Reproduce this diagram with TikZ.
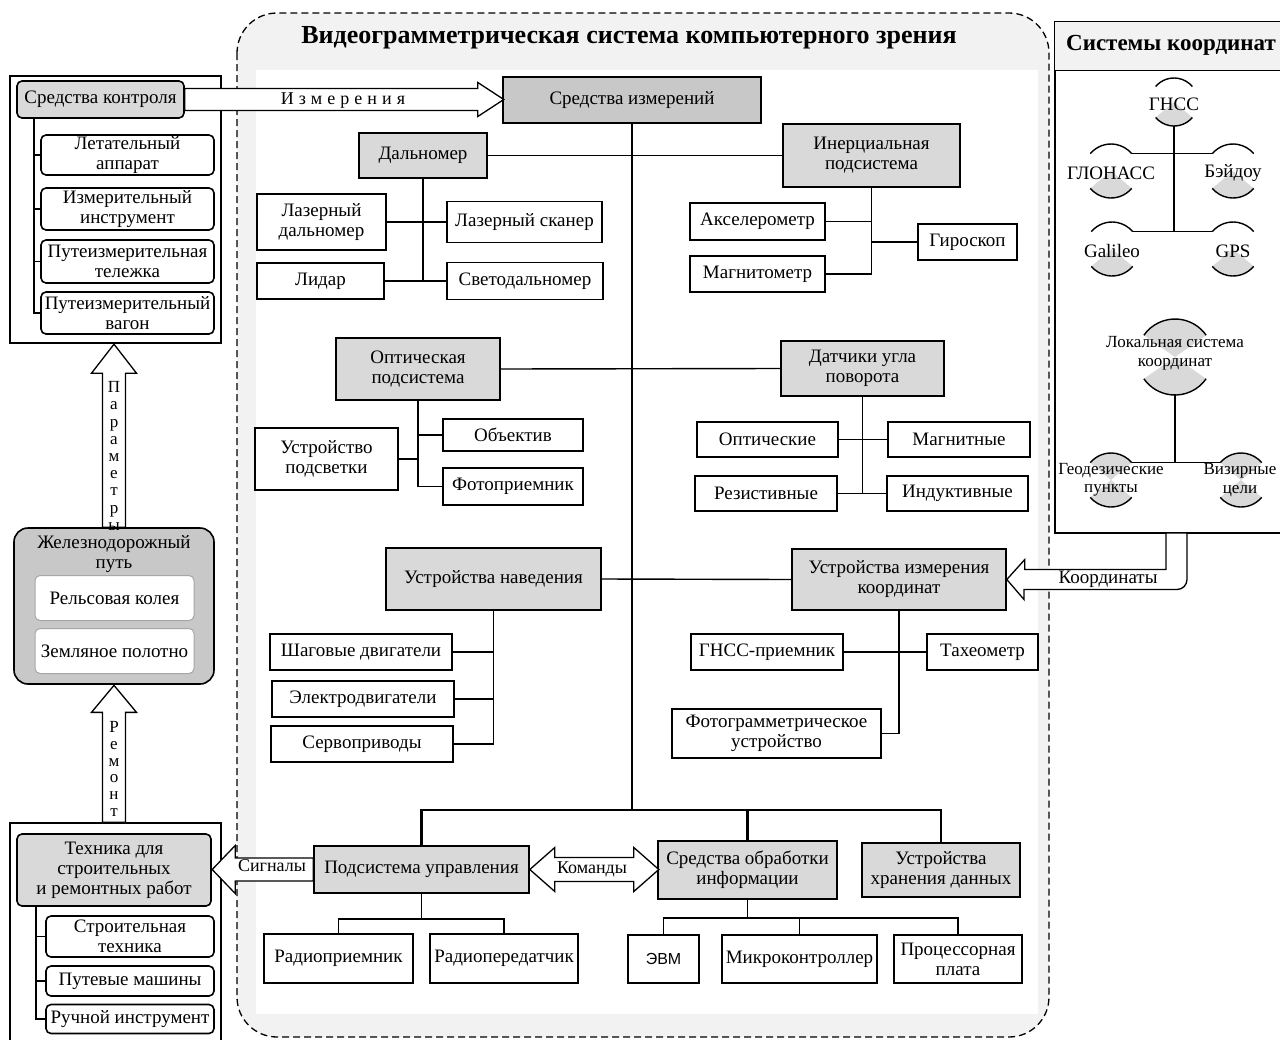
\documentclass[tikz,border=0pt]{standalone}
\usepackage{fontspec}
\setmainfont{Liberation Serif}
\newfontfamily\sansf{Liberation Sans}
\usetikzlibrary{calc}
\definecolor{bggray}{HTML}{F2F2F2}
\definecolor{boxgray}{HTML}{D9D9D9}
\definecolor{deepgray}{HTML}{C8C8C8}
\tikzset{
  wh/.style 2 args={minimum width=#1, minimum height=#2},
  box/.style={draw, line width=1.6pt, fill=white, inner sep=1pt, align=center},
  gbox/.style={box, fill=boxgray},
  rbox/.style={box, rounded corners=5pt},
  rgbox/.style={rbox, fill=boxgray},
  frame/.style={draw, line width=1.3pt, fill=white, inner sep=0pt},
  conn/.style={line width=1.4pt},
  trunk/.style={line width=2.6pt},
  fatarrow/.style={draw, line width=1.3pt, fill=white, line join=miter},
  wedge/.style={fill=boxgray},
  markarc/.style={line width=1.4pt},
  marktext/.style={inner sep=0pt, align=center},
  titletext/.style={font=\bfseries\fontsize{26}{28}\selectfont}
}
\begin{document}
\begin{tikzpicture}[x=1pt, y=-1pt, font=\fontsize{19}{20}\selectfont]
\useasboundingbox (0,0) rectangle (1280,1039);

% video system area
\draw[dash pattern=on 7pt off 4pt, line width=1.3pt, fill=bggray, rounded corners=40pt] (237,13) rectangle (1049,1037);
\fill[white] (256,70) rectangle (1038,1014);
\node[titletext] (vtitle) at (629,38) {Видеограмметрическая система компьютерного зрения};

% coordinate systems
\node[frame, wh={226}{511}] (ksys) at (1168,277.5) {};
\draw[frame, fill=bggray] (ksys.north west) rectangle ($(ksys.north east)+(0,49)$);
\node[titletext, font=\bfseries\fontsize{23}{25}\selectfont] (kstitle) at (1171,45) {Системы координат};

\coordinate (gnss) at (1174,102);
\coordinate (glon) at (1111,171);
\coordinate (beid) at (1233,171);
\coordinate (gal) at (1112,249);
\coordinate (gps) at (1233,249);
\fill[wedge] (gnss) -- +(40:24) arc (40:140:24) -- cycle;
\fill[wedge] (glon) -- +(40:27) arc (40:140:27) -- cycle;
\fill[wedge] (beid) -- +(40:27) arc (40:140:27) -- cycle;
\fill[wedge] (gal) -- +(40:27) arc (40:140:27) -- cycle;
\fill[wedge] (gps) -- +(40:27) arc (40:140:27) -- cycle;
\draw[markarc] (gnss) +(220:24) arc (220:320:24) (gnss) +(40:24) arc (40:140:24);
\draw[markarc] (glon) +(220:27) arc (220:320:27) (glon) +(40:27) arc (40:140:27);
\draw[markarc] (beid) +(220:27) arc (220:320:27) (beid) +(40:27) arc (40:140:27);
\draw[markarc] (gal) +(220:27) arc (220:320:27) (gal) +(40:27) arc (40:140:27);
\draw[markarc] (gps) +(220:27) arc (220:320:27) (gps) +(40:27) arc (40:140:27);
\node[marktext] (gnsst) at (1174,104) {ГНСС};
\node[marktext] (glont) at (1111,173) {ГЛОНАСС};
\node[marktext] (beidt) at (1233,173) {Бэйдоу};
\node[marktext] (galt) at (1112,251) {Galileo};
\node[marktext] (gpst) at (1233,251) {GPS};
\coordinate (gnssb) at ($(gnss)+(90:24)$);
\coordinate (glonr) at ($(glon)+(320:27)$);
\coordinate (beidl) at ($(beid)+(220:27)$);
\coordinate (galr) at ($(gal)+(320:27)$);
\coordinate (gpsl) at ($(gps)+(220:27)$);
\draw[conn] (glonr) -- (beidl);
\draw[conn] (galr) -- (gpsl);
\draw[conn] (gnssb) -- (gnssb |- galr);

\coordinate (lok) at (1175,357);
\coordinate (geo) at (1111,480);
\coordinate (viz) at (1241,480);
\fill[wedge] (lok) -- +(35:38) arc (35:145:38) -- cycle;
\fill[wedge] (lok) -- +(215:38) arc (215:325:38) -- cycle;
\fill[wedge] (geo) -- +(40:27) arc (40:140:27) -- cycle;
\fill[wedge] (geo) -- +(220:27) arc (220:320:27) -- cycle;
\fill[wedge] (viz) -- +(40:27) arc (40:140:27) -- cycle;
\fill[wedge] (viz) -- +(220:27) arc (220:320:27) -- cycle;
\draw[markarc] (lok) +(215:38) arc (215:325:38) (lok) +(35:38) arc (35:145:38);
\draw[markarc] (geo) +(220:27) arc (220:320:27) (geo) +(40:27) arc (40:140:27);
\draw[markarc] (viz) +(220:27) arc (220:320:27) (viz) +(40:27) arc (40:140:27);
\node[marktext, font=\fontsize{17}{18.5}\selectfont] (lokt) at (1175,353) {Локальная система\\координат};
\node[marktext, font=\fontsize{17}{18.5}\selectfont] (geot) at (1111,480) {Геодезические\\пункты};
\node[marktext, font=\fontsize{17}{18.5}\selectfont] (vizt) at (1240,480) {Визирные\\цели};
\coordinate (lokb) at ($(lok)+(90:38)$);
\coordinate (geor) at ($(geo)+(320:27)$);
\coordinate (vizl) at ($(viz)+(220:27)$);
\draw[conn] (geor) -- (vizl);
\draw[conn] (lokb) -- (lokb |- geor);

% control group
\node[frame, wh={211}{267}] (kgrp) at (115.5,209.5) {};
\node[rgbox, wh={167}{37}] (kontr) at (100.5,99.5) {Средства контроля};
\node[rbox, wh={173}{40}] (let) at (127.5,155) {Летательный\\аппарат};
\node[rbox, wh={173}{42}] (izi) at (127.5,209) {Измерительный\\инструмент};
\node[rbox, wh={173}{43}] (pit) at (127.5,261.5) {Путеизмерительная\\тележка};
\node[rbox, wh={173}{42}] (piv) at (127.5,313) {Путеизмерительный\\вагон};
\coordinate (kl) at (34,118);
\draw[conn] (kl) |- (piv.west);
\draw[conn] (kl |- let.west) -- (let.west);
\draw[conn] (kl |- izi.west) -- (izi.west);
\draw[conn] (kl |- pit.west) -- (pit.west);

% railway
\node[box, rounded corners=14pt, fill=deepgray, wh={200}{156}] (zhd) at (114,606) {};
\node[marktext] (zhdt) at (114,554) {Железнодорожный\\путь};
\node[box, draw=gray!70, line width=1pt, rounded corners=5pt, wh={159}{45}] (rk) at (114.5,598) {Рельсовая колея};
\node[box, draw=gray!70, line width=1pt, rounded corners=5pt, wh={159}{45}] (zp) at (114.5,651) {Земляное полотно};

% machinery group
\node[frame, wh={211}{228}] (tgrp) at (115.5,937) {};
\node[rgbox, wh={194}{72}] (teh) at (114,870) {Техника для\\строительных\\и ремонтных работ};
\node[rbox, wh={168}{41}] (st) at (130,936.5) {Строительная\\техника};
\node[rbox, wh={168}{30}] (pm) at (130,981) {Путевые машины};
\node[rbox, wh={168}{29}] (ri) at (130,1019) {Ручной инструмент};
\coordinate (tl) at (36,906);
\draw[conn] (tl) |- (ri.west);
\draw[conn] (tl |- st.west) -- (st.west);
\draw[conn] (tl |- pm.west) -- (pm.west);

% measurement tools
\node[box, fill=deepgray, wh={258}{46}] (sizm) at (632,100) {Средства измерений};
\node[gbox, wh={128}{45}] (dal) at (423,155.5) {Дальномер};
\node[gbox, wh={177}{63}] (ins) at (871.5,155.5) {Инерциальная\\подсистема};
\node[box, wh={129}{56}] (lazd) at (321.5,222) {Лазерный\\дальномер};
\node[box, wh={127}{36}] (lid) at (320.5,281) {Лидар};
\node[box, wh={155}{41}] (lazs) at (524.5,222) {Лазерный сканер};
\node[box, wh={156}{37}] (svd) at (525,281) {Светодальномер};
\node[box, wh={135}{37}] (aks) at (757.5,221.5) {Акселерометр};
\node[box, wh={135}{36}] (mag) at (757.5,274) {Магнитометр};
\node[box, wh={99}{36}] (gir) at (967.5,242) {Гироскоп};

\node[gbox, wh={164}{62}] (opt) at (418,369) {Оптическая\\подсистема};
\node[box, wh={140}{32}] (obj) at (513,435) {Объектив};
\node[box, wh={140}{37}] (foto) at (513,486.5) {Фотоприемник};
\node[box, wh={143}{62}] (podsv) at (326.5,459) {Устройство\\подсветки};
\node[gbox, wh={163}{55}] (dat) at (862.5,368.5) {Датчики угла\\поворота};
\node[box, wh={141}{35}] (optd) at (767.5,439.5) {Оптические};
\node[box, wh={142}{35}] (magd) at (959,439.5) {Магнитные};
\node[box, wh={142}{35}] (rez) at (766,493.5) {Резистивные};
\node[box, wh={141}{35}] (ind) at (957.5,493.5) {Индуктивные};

\node[gbox, wh={215}{62}] (nav) at (493.5,579) {Устройства наведения};
\node[box, wh={182}{36}] (shag) at (361,652) {Шаговые двигатели};
\node[box, wh={182}{36}] (elek) at (363,699) {Электродвигатели};
\node[box, wh={182}{36}] (serv) at (362,744) {Сервоприводы};
\node[gbox, wh={214}{61}] (izk) at (899,579.5) {Устройства измерения\\координат};
\node[box, wh={152}{36}] (gnp) at (767,652) {ГНСС-приемник};
\node[box, wh={111}{36}] (tah) at (982.5,652) {Тахеометр};
\node[box, wh={209}{49}] (fgu) at (776.5,733.5) {Фотограмметрическое\\устройство};

\node[gbox, wh={215}{47}] (podu) at (421.5,869.5) {Подсистема управления};
\node[gbox, wh={179}{58}] (sobr) at (747.5,870) {Средства обработки\\информации};
\node[gbox, wh={158}{54}] (hran) at (941,870) {Устройства\\хранения данных};
\node[box, wh={149}{49}] (rpm) at (338.5,958.5) {Радиоприемник};
\node[box, wh={148}{49}] (rpd) at (504,958.5) {Радиопередатчик};
\node[box, wh={71}{48}, font=\sansf\fontsize{16}{18}\selectfont] (evm) at (663.5,959) {ЭВМ};
\node[box, wh={155}{48}] (mik) at (799.5,959) {Микроконтроллер};
\node[box, wh={128}{48}] (proc) at (958,959) {Процессорная\\плата};

% tree lines
\coordinate (bus) at (632,810);
\draw[trunk] (sizm.south) -- (bus);
\draw[trunk] (podu.north) |- (bus) -| (hran.north);
\draw[trunk] (sobr.north) -- (sobr.north |- bus);

\draw[conn] (dal.east) -- (ins.west);
\draw[conn] (dal.south) -- (dal.south |- lid.east);
\draw[conn] (lazd.east) -- (lazs.west);
\draw[conn] (lid.east) -- (svd.west);
\draw[conn] (ins.south) -- (ins.south |- mag.east);
\draw[conn] (aks.east) -- (ins.south |- aks.east);
\draw[conn] (mag.east) -- (ins.south |- mag.east);
\draw[conn] (gir.west) -- (ins.south |- gir.west);

\draw[conn] (opt.east) -- (dat.west);
\draw[conn] (opt.south) -- (opt.south |- foto.west);
\draw[conn] (podsv.east) -- (opt.south |- podsv.east);
\draw[conn] (obj.west) -- (opt.south |- obj.west);
\draw[conn] (foto.west) -- (opt.south |- foto.west);
\draw[conn] (dat.south) -- (dat.south |- rez.east);
\draw[conn] (optd.east) -- (magd.west);
\draw[conn] (rez.east) -- (ind.west);

\draw[conn] (nav.east) -- (izk.west);
\draw[conn] (nav.south) -- (nav.south |- serv.east);
\draw[conn] (shag.east) -- (nav.south |- shag.east);
\draw[conn] (elek.east) -- (nav.south |- elek.east);
\draw[conn] (serv.east) -- (nav.south |- serv.east);
\draw[conn] (izk.south) -- (izk.south |- fgu.east);
\draw[conn] (gnp.east) -- (tah.west);
\draw[conn] (fgu.east) -- (izk.south |- fgu.east);

\coordinate (pub) at (421.5,919);
\draw[conn] (podu.south) -- (pub);
\draw[conn] (rpm.north) |- (pub) -| (rpd.north);
\coordinate (sob) at (747.5,918);
\draw[conn] (sobr.south) -- (sob);
\draw[conn] (evm.north) |- (sob) -| (proc.north);
\draw[conn] (mik.north) -- (mik.north |- sob);

% block arrows
\draw[fatarrow] (kontr.east) ++(0,-11) -- ++(293,0) -- ++(0,-6) -- ++(26,17) -- ++(-26,17) -- ++(0,-6) -- ++(-293,0) -- cycle;
\node[inner sep=0pt, font=\fontsize{18}{19}\selectfont] (izmt) at (343,101) {\addfontfeature{LetterSpace=28}Измерения};

\draw[fatarrow] (zhd.north) ++(-11.5,0) -- ++(0,-154) -- ++(-11,0) -- ++(22.5,-29) -- ++(22.5,29) -- ++(-11,0) -- ++(0,154) -- cycle;
\node[align=center, inner sep=0pt, font=\fontsize{17}{17.2}\selectfont] (part) at (114,456) {П\\а\\р\\а\\м\\е\\т\\р\\ы};

\draw[fatarrow] (tgrp.north) ++(-13,0) -- ++(0,-110) -- ++(-11,0) -- ++(22.5,-27) -- ++(22.5,27) -- ++(-11,0) -- ++(0,110) -- cycle;
\node[align=center, inner sep=0pt, font=\fontsize{17}{16.8}\selectfont] (remt) at (114,769) {Р\\е\\м\\о\\н\\т};

\draw[fatarrow] (podu.west) ++(0,-11.5) -- ++(-78,0) -- ++(0,-12.5) -- ++(-23,24) -- ++(23,24) -- ++(0,-12.5) -- ++(78,0) -- cycle;
\node[inner sep=0pt, font=\fontsize{18}{19}\selectfont] (sigt) at (272,866) {Сигналы};

\draw[fatarrow] (podu.east) -- ++(25,-22) -- ++(0,10) -- ++(79,0) -- ++(0,-10) -- ++(25,22) -- ++(-25,22) -- ++(0,-10) -- ++(-79,0) -- ++(0,10) -- cycle;
\node[inner sep=0pt, font=\fontsize{18}{19}\selectfont] (komt) at (592,869) {Команды};

\draw[fatarrow] (izk.east) -- ++(18,-20) -- ++(0,10) -- (1166,569.5) -- (1166,533) -- (1187,533) [rounded corners=10pt] -- (1187,589.5) -- (1100,589.5) [sharp corners] -- (1024,589.5) -- ++(0,10) -- cycle;
\node[inner sep=0pt] (koot) at (1108,579) {Координаты};
\end{tikzpicture}
\end{document}
